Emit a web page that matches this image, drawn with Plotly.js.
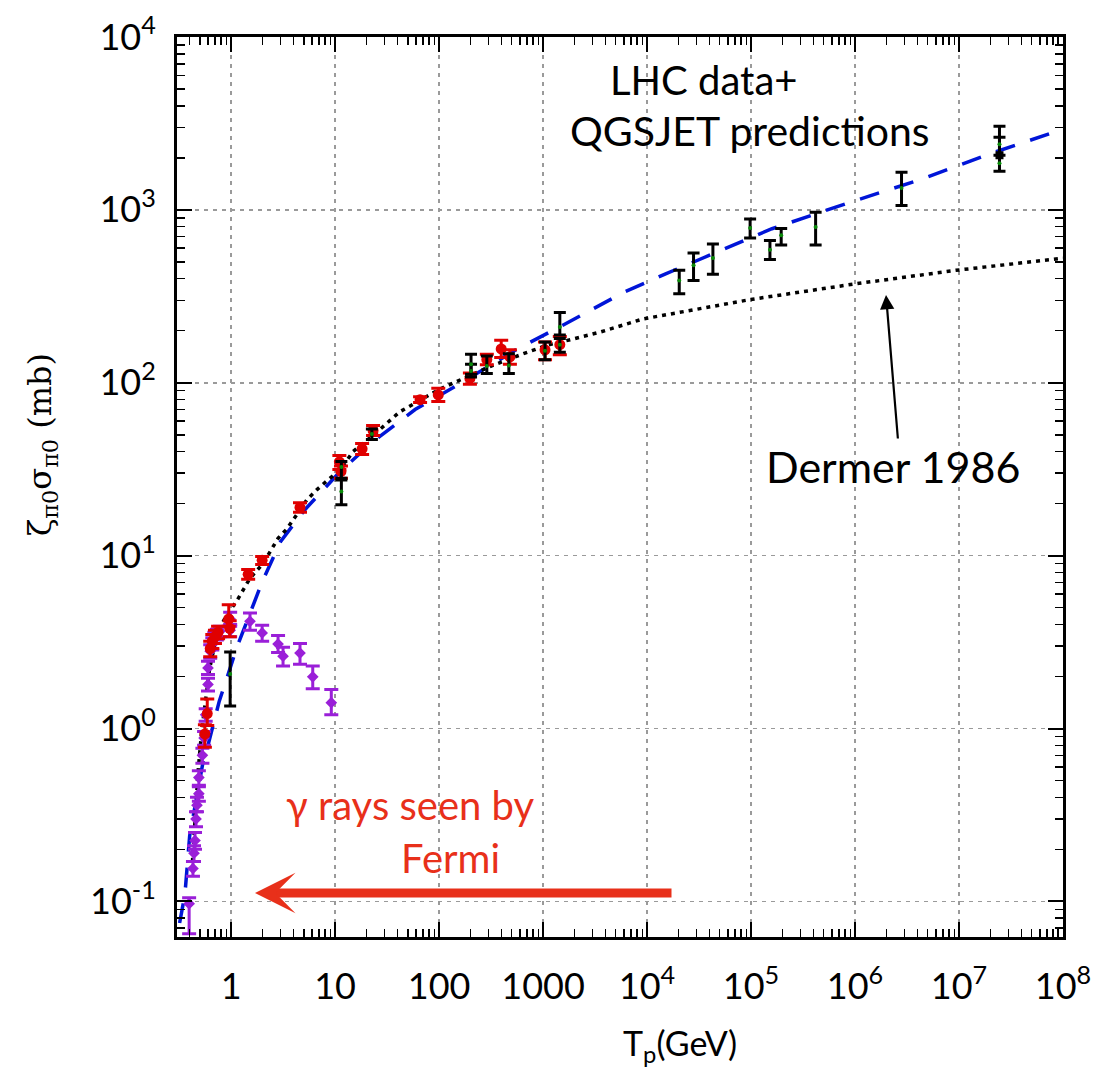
<!DOCTYPE html>
<html><head><meta charset="utf-8">
<script src="https://cdn.plot.ly/plotly-3.0.1.min.js"></script>
<style>body{margin:0;background:#fff}</style>
</head><body><div id="chart" style="width:1097px;height:1072px"></div>
<script>
// QGSJET prediction (blue dashed)
const qgsjetT   = [0.32, 0.36, 0.40, 0.47, 0.54, 0.60, 0.77, 0.94, 1.14, 2.0, 3.0, 5.15, 11.2, 23.2, 58.8, 142, 588, 1333, 6121, 14900, 159000, 831000, 4.3e6, 2.12e7, 1e8];
const qgsjetVal = [0.075, 0.11, 0.24, 0.42, 0.65, 0.80, 1.44, 2.07, 2.96, 7.1, 12.1, 18.5, 30.7, 45.7, 70, 95, 159, 205, 336, 425, 778, 1090, 1500, 2140, 2930];
// Dermer 1986 (black dotted)
const dermerT   = [0.42, 0.45, 0.48, 0.52, 0.56, 0.62, 0.70, 0.78, 0.9, 1.14, 1.52, 2.03, 2.83, 3.45, 5.38, 6.7, 8.9, 11.2, 14.9, 25.4, 42, 102, 185, 329, 643, 1090, 1940, 3500, 9160, 9.9e4, 9.6e5, 9.3e6, 1e8];
const dermerVal = [0.15, 0.3, 0.55, 0.95, 1.35, 2.2, 3.1, 3.8, 4.5, 5.5, 7.4, 9.0, 12.6, 14.3, 21.1, 24.1, 28, 31.3, 40, 52, 68, 92, 108, 126, 147, 165, 179, 196, 234, 303, 372, 447, 525];
// red data
const redT   = [0.56, 0.59, 0.63, 0.66, 0.70, 0.75, 0.95, 0.97, 1.46, 1.99, 4.6, 11.0, 11.4, 18.2, 23.2, 65.7, 98.3, 198, 288, 396, 480, 1045, 1450];
const redVal = [0.93, 1.22, 2.9, 3.2, 3.4, 3.6, 4.3, 3.8, 7.8, 9.4, 19.0, 34.9, 30.7, 41.5, 53, 79.8, 85, 106, 136, 157, 141, 155, 166];
const redLo  = [0.78, 1.04, 2.6, 2.9, 3.1, 3.3, 3.9, 3.4, 7.3, 8.9, 17.8, 31.5, 28, 38.5, 49.5, 77, 78, 98, 127, 140, 128, 136, 145];
const redHi  = [1.05, 1.48, 3.2, 3.5, 3.7, 3.9, 5.2, 4.2, 8.3, 9.9, 20.2, 38, 33, 44.5, 56.5, 83, 93, 114, 146, 176, 155, 172, 185];
// purple data
const purT   = [0.395, 0.43, 0.44, 0.45, 0.46, 0.47, 0.49, 0.49, 0.53, 0.55, 0.57, 0.60, 0.60, 0.63, 0.66, 0.69, 0.73, 0.78, 0.98, 0.98, 1.52, 1.99, 2.83, 3.16, 4.6, 6.1, 9.2];
const purVal = [0.097, 0.155, 0.19, 0.225, 0.30, 0.36, 0.42, 0.52, 0.70, 0.88, 1.2, 1.8, 2.24, 2.8, 3.1, 3.35, 3.5, 3.65, 4.3, 3.7, 4.17, 3.57, 3.08, 2.62, 2.73, 1.99, 1.41];
const purLo  = [0.065, 0.14, 0.17, 0.2, 0.27, 0.33, 0.38, 0.47, 0.63, 0.8, 1.1, 1.65, 2.05, 2.55, 2.85, 3.1, 3.25, 3.4, 3.9, 3.4, 3.7, 3.2, 2.75, 2.3, 2.35, 1.7, 1.2];
const purHi  = [0.105, 0.17, 0.21, 0.25, 0.33, 0.40, 0.46, 0.57, 0.77, 0.96, 1.3, 1.95, 2.45, 3.05, 3.35, 3.6, 3.75, 3.9, 4.7, 4.0, 4.65, 3.95, 3.45, 2.95, 3.1, 2.3, 1.68];
// black error bars with green centres (LHC data)
const lhcT   = [0.98, 11.5, 11.5, 22.6, 203, 203, 288, 469, 1045, 1450, 1450, 20400, 28000, 43000, 98000, 152000, 195000, 418000, 2.8e6, 2.45e7, 2.45e7];
const lhcVal = [2.07, 23.5, 32.6, 50.6, 128, 117, 125, 126, 153, 210, 166, 390, 478, 527, 785, 588, 713, 795, 1340, 2400, 1860];
const lhcLo  = [1.35, 19.7, 28, 47, 112, 108, 113, 113, 136, 189, 150, 327, 390, 424, 688, 516, 626, 626, 1060, 2070, 1675];
const lhcHi  = [2.77, 27.4, 35, 54, 146, 128, 143, 147, 172, 255, 180, 448, 564, 634, 885, 664, 780, 970, 1650, 3050, 2630];
const squareT = [2.45e7];
const squareVal = [2070];

const xTickVals = [1, 10, 100, 1000, 1e4, 1e5, 1e6, 1e7, 1e8];
const xTickText = ['1', '10', '100', '1000', '10<sup>4</sup>', '10<sup>5</sup>', '10<sup>6</sup>', '10<sup>7</sup>', '10<sup>8</sup>'];
const yTickVals = [0.1, 1, 10, 100, 1000, 10000];
const yTickText = ['10<sup>-1</sup>', '10<sup>0</sup>', '10<sup>1</sup>', '10<sup>2</sup>', '10<sup>3</sup>', '10<sup>4</sup>'];

function minorVals(lo, hi) {
  const out = [];
  for (let e = lo; e <= hi; e++) for (let d = 2; d <= 9; d++) out.push(d * Math.pow(10, e));
  return out;
}
const up = (v, h) => h.map((x, i) => x - v[i]);
const dn = (v, l) => l.map((x, i) => v[i] - x);

const tickFont = {family: 'Lato, sans-serif', size: 36, color: '#000'};
const txtFont = 'Lato, Noto Sans, sans-serif';

const traces = [
  {x: qgsjetT, y: qgsjetVal, mode: 'lines', line: {color: '#0015d8', width: 3.5, dash: '20px,16px'}, hoverinfo: 'skip'},
  {x: dermerT, y: dermerVal, mode: 'lines', line: {color: '#000', width: 3.5, dash: '4px,5px'}, hoverinfo: 'skip'},
  {x: purT, y: purVal, mode: 'markers', marker: {symbol: 'diamond', size: 9, color: '#9a1fd8'},
   error_y: {type: 'data', symmetric: false, array: up(purVal, purHi), arrayminus: dn(purVal, purLo), color: '#9a1fd8', thickness: 3, width: 7}},
  {x: redT, y: redVal, mode: 'markers', marker: {symbol: 'circle', size: 11, color: '#e00000'},
   error_y: {type: 'data', symmetric: false, array: up(redVal, redHi), arrayminus: dn(redVal, redLo), color: '#e00000', thickness: 3, width: 7}},
  {x: lhcT, y: lhcVal, mode: 'markers', marker: {symbol: 'circle', size: 4, color: '#0a8a0a'},
   error_y: {type: 'data', symmetric: false, array: up(lhcVal, lhcHi), arrayminus: dn(lhcVal, lhcLo), color: '#000', thickness: 3, width: 6}},
  {x: squareT, y: squareVal, mode: 'markers', marker: {symbol: 'square', size: 8, color: '#000'}}
];

const px = v => (v - 177) / 886;
const py = v => (937 - v) / 900;
const txt = (x, y, text, size, color, extra) => Object.assign({
  xref: 'paper', yref: 'paper', x: px(x), y: py(y), text: text, showarrow: false,
  xanchor: 'center', yanchor: 'middle', font: {family: txtFont, size: size, color: color}
}, extra || {});

const layout = {
  width: 1097, height: 1072,
  margin: {l: 177, r: 34, t: 37, b: 135},
  paper_bgcolor: '#fff', plot_bgcolor: '#fff',
  showlegend: false,
  xaxis: {
    type: 'log', range: [-0.52, 8],
    tickmode: 'array', tickvals: xTickVals, ticktext: xTickText,
    tickfont: tickFont, ticks: 'inside', ticklen: 15, tickwidth: 2, tickcolor: '#000',
    ticklabelstandoff: 16,
    showline: true, linewidth: 3, linecolor: '#000', mirror: 'allticks',
    showgrid: true, gridcolor: '#9a9a9a', gridwidth: 1.5, griddash: '4px,5px',
    minor: {tickmode: 'array', tickvals: minorVals(-1, 7), ticks: 'inside', ticklen: 8, tickwidth: 1.5, tickcolor: '#000', showgrid: false}
  },
  yaxis: {
    type: 'log', range: [-1.206, 4],
    tickmode: 'array', tickvals: yTickVals, ticktext: yTickText,
    tickfont: tickFont, ticks: 'inside', ticklen: 15, tickwidth: 2, tickcolor: '#000',
    ticklabelstandoff: 11,
    showline: true, linewidth: 3, linecolor: '#000', mirror: 'allticks',
    showgrid: true, gridcolor: '#9a9a9a', gridwidth: 1.5, griddash: '4px,5px',
    minor: {tickmode: 'array', tickvals: minorVals(-2, 3), ticks: 'inside', ticklen: 8, tickwidth: 1.5, tickcolor: '#000', showgrid: false}
  },
  annotations: [
    txt(703, 80, 'LHC data+', 40, '#000'),
    txt(750, 130, 'QGSJET predictions', 41, '#000'),
    txt(893, 467, 'Dermer 1986', 43, '#000'),
    txt(410, 805, 'γ rays seen by', 40, '#e8301a'),
    txt(450, 858, 'Fermi', 40, '#e8301a'),
    {xref: 'paper', yref: 'paper', x: px(255), y: py(893), ax: 418, ay: 0, axref: 'pixel', ayref: 'pixel', text: '', showarrow: true,
     arrowhead: 3, arrowsize: 0.75, arrowwidth: 9, arrowcolor: '#e8301a', standoff: 0},
    {xref: 'paper', yref: 'paper', x: px(886), y: py(295), ax: 12, ay: 145, axref: 'pixel', ayref: 'pixel', text: '', showarrow: true,
     arrowhead: 2, arrowsize: 1.3, arrowwidth: 2.2, arrowcolor: '#000', standoff: 0},
    txt(42, 445, 'ζ<sub>π0</sub>σ<sub>π0</sub> (mb)', 32, '#000', {textangle: -90, font: {family: 'DejaVu Serif, serif', size: 32, color: '#000'}}),
    txt(680, 1045, 'T<sub>p</sub>(GeV)', 34, '#000')
  ]
};

Plotly.newPlot('chart', traces, layout, {displayModeBar: false, staticPlot: true});
</script>
</body></html>
